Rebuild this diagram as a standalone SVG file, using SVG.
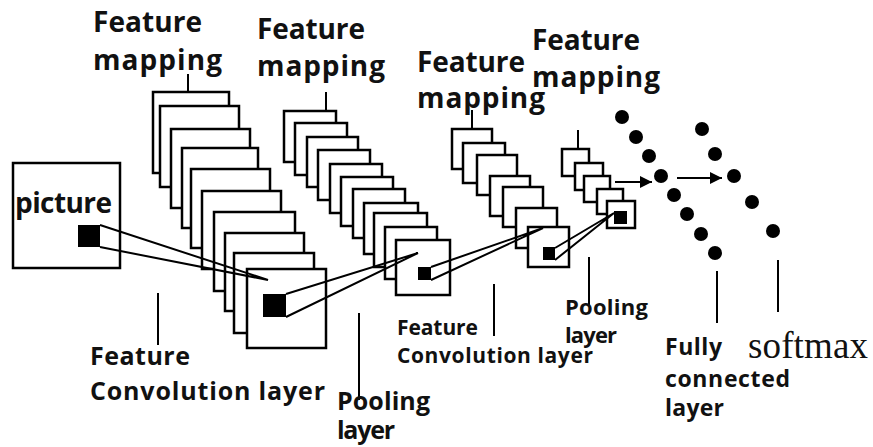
<svg xmlns="http://www.w3.org/2000/svg" width="873" height="447" viewBox="0 0 873 447">
<style>
.fr{fill:#fff;stroke:#000;stroke-width:2.5}
.blk{fill:#000}
.ln{stroke:#000;stroke-width:2;fill:none}
.lbl{font-family:"Open Sans","DejaVu Sans",sans-serif;font-weight:bold;fill:#111}
.sm{font-family:"Liberation Serif","Times New Roman",serif;fill:#111}
.dot{fill:#000}
</style>
<defs>
<marker id="ah" viewBox="0 0 10 10" refX="10" refY="5" markerWidth="22" markerHeight="12" markerUnits="userSpaceOnUse" orient="auto"><path d="M0,0 L10,5 L0,10 z" fill="#000"/></marker>
</defs>
<rect width="873" height="447" fill="#fff"/>

<g id="picture">
<rect class="fr" x="13" y="163" width="107" height="105" stroke-width="2"/>
<rect class="blk" x="78" y="225" width="22" height="22"/>
<text class="lbl" x="15" y="213" font-size="28" textLength="97">picture</text>
</g>

<g id="conv1">
<rect class="fr" x="153" y="92" width="76" height="81"/>
<rect class="fr" x="160" y="106" width="79" height="81"/>
<rect class="fr" x="171" y="129" width="79" height="79"/>
<rect class="fr" x="182" y="148" width="76" height="80"/>
<rect class="fr" x="191" y="169" width="79" height="79"/>
<rect class="fr" x="202" y="191" width="79" height="78"/>
<rect class="fr" x="214" y="212" width="81" height="79"/>
<rect class="fr" x="225" y="233" width="79" height="78"/>
<rect class="fr" x="234" y="253" width="80" height="80"/>
<rect class="fr" x="247" y="269" width="79" height="79"/>
<rect class="blk" x="263" y="294" width="23" height="23"/>
</g>

<g id="pool1">
<rect class="fr" x="284" y="111" width="52" height="51"/>
<rect class="fr" x="295" y="123" width="52" height="52"/>
<rect class="fr" x="307" y="137" width="51" height="50"/>
<rect class="fr" x="318" y="150" width="52" height="50"/>
<rect class="fr" x="330" y="164" width="52" height="49"/>
<rect class="fr" x="341" y="177" width="52" height="49"/>
<rect class="fr" x="353" y="189" width="52" height="49"/>
<rect class="fr" x="364" y="203" width="54" height="51"/>
<rect class="fr" x="374" y="213" width="53" height="54"/>
<rect class="fr" x="385" y="227" width="52" height="52"/>
<rect class="fr" x="396" y="240" width="54" height="55"/>
<rect class="blk" x="418" y="267" width="13" height="13"/>
</g>

<g id="conv2">
<rect class="fr" x="452" y="129" width="40" height="40"/>
<rect class="fr" x="463" y="143" width="42" height="40"/>
<rect class="fr" x="477" y="155" width="40" height="40"/>
<rect class="fr" x="490" y="176" width="40" height="40"/>
<rect class="fr" x="503" y="187" width="40" height="40"/>
<rect class="fr" x="516" y="208" width="41" height="40"/>
<rect class="fr" x="528" y="227" width="41" height="40"/>
<rect class="blk" x="543" y="247" width="12" height="13"/>
</g>

<g id="pool2">
<rect class="fr" x="562" y="149" width="27" height="27"/>
<rect class="fr" x="575" y="163" width="28" height="27"/>
<rect class="fr" x="584" y="176" width="26" height="26"/>
<rect class="fr" x="597" y="189" width="26" height="25"/>
<rect class="fr" x="607" y="201" width="28" height="27"/>
<rect class="blk" x="614" y="211" width="13" height="13"/>
</g>

<g id="fc">
<circle class="dot" cx="622" cy="117" r="7"/>
<circle class="dot" cx="636" cy="137" r="7"/>
<circle class="dot" cx="649" cy="156" r="7"/>
<circle class="dot" cx="661" cy="176" r="7"/>
<circle class="dot" cx="674" cy="195" r="7"/>
<circle class="dot" cx="687" cy="214" r="7"/>
<circle class="dot" cx="701" cy="234" r="7"/>
<circle class="dot" cx="715" cy="253" r="7"/>
</g>

<g id="softmax">
<circle class="dot" cx="702" cy="129" r="7"/>
<circle class="dot" cx="715" cy="154" r="7"/>
<circle class="dot" cx="734" cy="176" r="7"/>
<circle class="dot" cx="752" cy="202" r="7"/>
<circle class="dot" cx="773" cy="231" r="7"/>
</g>

<g id="connectors">
<path class="ln" d="M100,225 L268,280 L100,247"/>
<path class="ln" d="M286,294 L418,253 L286,317"/>
<path class="ln" d="M431,267 L543,228 L431,280"/>
<path class="ln" d="M555,248 L614,213 L555,260"/>
<line class="ln" x1="615" y1="182" x2="652" y2="182" marker-end="url(#ah)"/>
<line class="ln" x1="677" y1="178" x2="722" y2="178" marker-end="url(#ah)"/>
<line class="ln" x1="188" y1="74" x2="188" y2="92"/>
<line class="ln" x1="326" y1="92" x2="326" y2="111"/>
<line class="ln" x1="472" y1="110" x2="472" y2="129"/>
<line class="ln" x1="578" y1="130" x2="578" y2="149"/>
<line class="ln" x1="158" y1="293" x2="158" y2="345"/>
<line class="ln" x1="359" y1="313" x2="359" y2="400"/>
<line class="ln" x1="494" y1="284" x2="494" y2="336"/>
<line class="ln" x1="589" y1="257" x2="589" y2="305"/>
<line class="ln" x1="717" y1="271" x2="717" y2="323"/>
<line class="ln" x1="778" y1="260" x2="778" y2="312"/>
</g>

<g id="labels">
<text class="lbl" x="93" y="32" font-size="28" textLength="109">Feature</text>
<text class="lbl" x="93" y="70" font-size="28" textLength="129">mapping</text>
<text class="lbl" x="257" y="39" font-size="28" textLength="108">Feature</text>
<text class="lbl" x="257" y="76" font-size="28" textLength="128">mapping</text>
<text class="lbl" x="417" y="72" font-size="28" textLength="108">Feature</text>
<text class="lbl" x="417" y="108" font-size="28" textLength="128">mapping</text>
<text class="lbl" x="532" y="50" font-size="28" textLength="108">Feature</text>
<text class="lbl" x="532" y="87" font-size="28" textLength="128">mapping</text>
<text class="lbl" x="90" y="365" font-size="25" textLength="100">Feature</text>
<text class="lbl" x="90" y="400" font-size="25" textLength="235">Convolution layer</text>
<text class="lbl" x="337" y="410" font-size="25" textLength="93">Pooling</text>
<text class="lbl" x="337" y="439" font-size="25" textLength="58">layer</text>
<text class="lbl" x="397" y="335" font-size="21" textLength="81">Feature</text>
<text class="lbl" x="397" y="363" font-size="21" textLength="196">Convolution layer</text>
<text class="lbl" x="565" y="315" font-size="22" textLength="83">Pooling</text>
<text class="lbl" x="565" y="343" font-size="22" textLength="52">layer</text>
<text class="lbl" x="665" y="355" font-size="23" textLength="57">Fully</text>
<text class="lbl" x="665" y="387" font-size="23" textLength="125">connected</text>
<text class="lbl" x="665" y="416" font-size="23" textLength="59">layer</text>
<text class="sm" x="748" y="358" font-size="37" textLength="120">softmax</text>
</g>
</svg>
